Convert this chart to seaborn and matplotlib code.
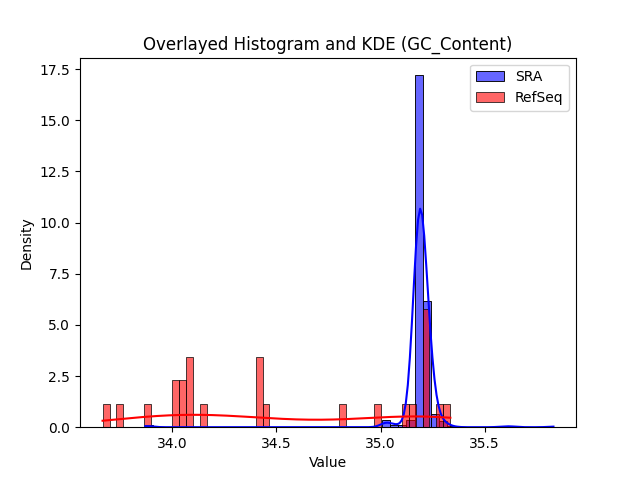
import numpy as np
import pandas as pd
import matplotlib
matplotlib.use("Agg")
import matplotlib.pyplot as plt
import seaborn as sns

# SRA GC content values (distinct values and how many samples share them)
sra_values = [33.87, 33.89, 35.026, 35.065, 35.104, 35.144,
              35.167, 35.172, 35.177, 35.182, 35.187, 35.192, 35.197, 35.201,
              35.207, 35.217, 35.227, 35.237,
              35.261, 35.300, 35.340, 35.59, 35.63, 35.83]
sra_counts = [1, 1, 7, 2, 2, 7,
              43, 43, 43, 43, 44, 44, 43, 43,
              31, 31, 31, 31,
              13, 6, 1, 1, 1, 1]

# RefSeq GC content values
refseq_values = [33.665, 33.748, 33.882, 34.016, 34.049, 34.083, 34.149,
                 34.417, 34.450, 34.818, 34.985, 35.118, 35.152, 35.218,
                 35.285, 35.335]
refseq_counts = [1, 1, 1, 2, 2, 3, 1, 3, 1, 1, 1, 1, 1, 5, 1, 1]

sra = np.repeat(sra_values, sra_counts)
refseq = np.repeat(refseq_values, refseq_counts)

fig, ax = plt.subplots(figsize=(6.4, 4.8), dpi=100)
sns.histplot(sra, bins=50, kde=True, stat="density", color="blue",
             alpha=0.6, label="SRA", ax=ax)
sns.histplot(refseq, bins=50, kde=True, stat="density", color="red",
             alpha=0.6, label="RefSeq", ax=ax)
ax.set_title("Overlayed Histogram and KDE (GC_Content)")
ax.set_xlabel("Value")
ax.set_ylabel("Density")
ax.legend(loc="upper right")
fig.savefig("out.png", dpi=100)
